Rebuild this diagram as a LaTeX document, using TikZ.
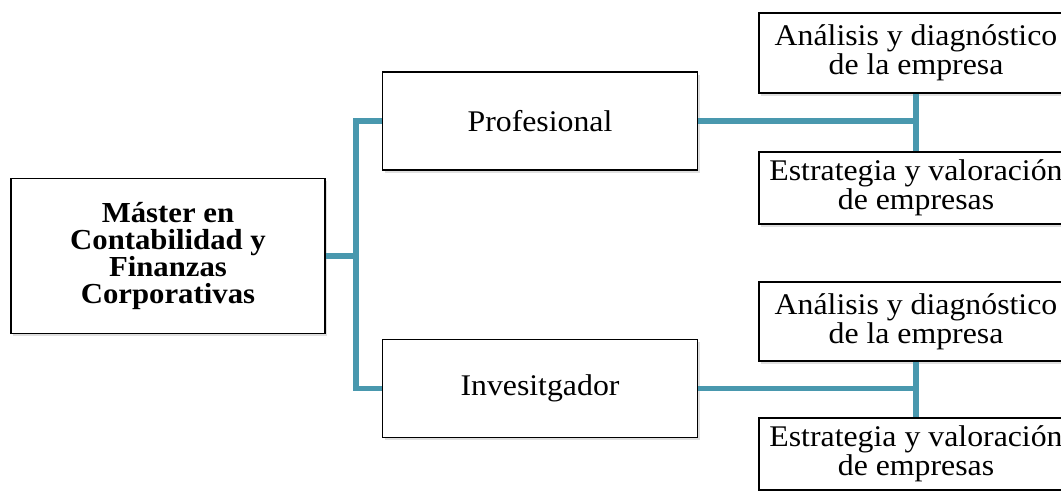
\documentclass[tikz,border=0pt]{standalone}
\usepackage{fontspec}
\setmainfont[FakeStretch=1.06]{Liberation Serif}
\usetikzlibrary{positioning,calc,shadows}
\definecolor{linkteal}{RGB}{73,152,174}

\begin{document}
\begin{tikzpicture}[x=0.5pt, y=-0.5pt,
            every node/.style={draw, line width=0.9pt, fill=white, align=center,
                drop shadow={shadow xshift=1pt, shadow yshift=-1.5pt, opacity=0.25}},
            box/.style={minimum width=157.5pt, minimum height=49pt, font=\fontsize{15}{14.5}\selectfont},
            leaf/.style={minimum width=157pt, inner sep=1pt, font=\fontsize{15}{14.5}\selectfont},
            rootbox/.style={minimum width=157pt, minimum height=77.5pt, font=\fontsize{14.5}{13.5}\selectfont\bfseries},
            link/.style={draw=linkteal, line width=2.6pt, line join=miter}]
        \useasboundingbox (0,0) rectangle (1061,491);
        \clip (0,0) rectangle (1061,491);
        \node[rootbox] (master) at (168,256) {Máster en\\Contabilidad y\\Finanzas\\Corporativas};
        \node[box] (prof) at (540,121) {Profesional};
        \node[box] (inv) at (540,388.5) {Invesitgador};
        % upper branch
        \node[leaf, minimum height=40pt] (anaA) at (916,53) {Análisis y diagnóstico\\de la empresa};
        \node[leaf, minimum height=36pt] (estA) at (916,188) {Estrategia y valoración\\de empresas};
        % lower branch
        \node[leaf, minimum height=39.5pt] (anaB) at (916,321.5) {Análisis y diagnóstico\\de la empresa};
        \node[leaf, minimum height=36pt] (estB) at (916,454) {Estrategia y valoración\\de empresas};
        % connectors
        \draw[link] (master.east) -- ++(30,0);
        \draw[link] (prof.west) -| ($(master.east)+(30,0)$) |- (inv.west);
        \draw[link] (prof.east) -- (prof.east -| anaA.south);
        \draw[link] (anaA.south) -- (estA.north);
        \draw[link] (inv.east) -- (inv.east -| anaB.south);
        \draw[link] (anaB.south) -- (estB.north);
\end{tikzpicture}
\end{document}
